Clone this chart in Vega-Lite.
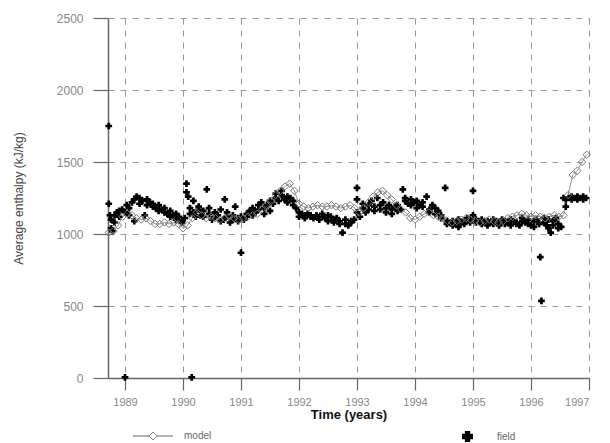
{
  "$schema": "https://vega.github.io/schema/vega-lite/v6.json",
  "width": 481,
  "height": 360,
  "autosize": {"type": "none"},
  "padding": {"left": 108, "top": 18, "right": 21, "bottom": 65},
  "background": "white",
  "config": {"view": {"stroke": null}, "font": "Liberation Sans"},
  "datasets": {
    "model": [
      {"year": 1988.72, "value": 1010}, {"year": 1988.8, "value": 1020}, {"year": 1988.88, "value": 1060},
      {"year": 1988.96, "value": 1120}, {"year": 1989.04, "value": 1140}, {"year": 1989.12, "value": 1130},
      {"year": 1989.2, "value": 1110}, {"year": 1989.28, "value": 1100}, {"year": 1989.36, "value": 1110},
      {"year": 1989.44, "value": 1090}, {"year": 1989.52, "value": 1070}, {"year": 1989.6, "value": 1070},
      {"year": 1989.68, "value": 1080}, {"year": 1989.76, "value": 1070}, {"year": 1989.84, "value": 1080},
      {"year": 1989.92, "value": 1070}, {"year": 1990.0, "value": 1040}, {"year": 1990.08, "value": 1060},
      {"year": 1990.16, "value": 1110}, {"year": 1990.24, "value": 1150}, {"year": 1990.32, "value": 1130},
      {"year": 1990.4, "value": 1110}, {"year": 1990.48, "value": 1120}, {"year": 1990.56, "value": 1110},
      {"year": 1990.64, "value": 1100}, {"year": 1990.72, "value": 1110}, {"year": 1990.8, "value": 1120},
      {"year": 1990.88, "value": 1110}, {"year": 1990.96, "value": 1100}, {"year": 1991.04, "value": 1110},
      {"year": 1991.12, "value": 1120}, {"year": 1991.2, "value": 1130}, {"year": 1991.28, "value": 1140},
      {"year": 1991.36, "value": 1170}, {"year": 1991.44, "value": 1200}, {"year": 1991.52, "value": 1230},
      {"year": 1991.6, "value": 1270}, {"year": 1991.68, "value": 1300}, {"year": 1991.76, "value": 1330},
      {"year": 1991.84, "value": 1350}, {"year": 1991.92, "value": 1300}, {"year": 1992.0, "value": 1210},
      {"year": 1992.08, "value": 1190}, {"year": 1992.16, "value": 1180}, {"year": 1992.24, "value": 1190},
      {"year": 1992.32, "value": 1200}, {"year": 1992.4, "value": 1190}, {"year": 1992.48, "value": 1190},
      {"year": 1992.56, "value": 1200}, {"year": 1992.64, "value": 1190}, {"year": 1992.72, "value": 1180},
      {"year": 1992.8, "value": 1190}, {"year": 1992.88, "value": 1200}, {"year": 1992.96, "value": 1180},
      {"year": 1993.04, "value": 1150}, {"year": 1993.12, "value": 1180}, {"year": 1993.2, "value": 1220},
      {"year": 1993.28, "value": 1260}, {"year": 1993.36, "value": 1290}, {"year": 1993.44, "value": 1300},
      {"year": 1993.52, "value": 1270}, {"year": 1993.6, "value": 1240}, {"year": 1993.68, "value": 1200},
      {"year": 1993.76, "value": 1170}, {"year": 1993.84, "value": 1150}, {"year": 1993.92, "value": 1110},
      {"year": 1994.0, "value": 1100}, {"year": 1994.08, "value": 1120}, {"year": 1994.16, "value": 1140},
      {"year": 1994.24, "value": 1150}, {"year": 1994.32, "value": 1130}, {"year": 1994.4, "value": 1120},
      {"year": 1994.48, "value": 1110}, {"year": 1994.56, "value": 1090}, {"year": 1994.64, "value": 1080},
      {"year": 1994.72, "value": 1090}, {"year": 1994.8, "value": 1100}, {"year": 1994.88, "value": 1110},
      {"year": 1994.96, "value": 1100}, {"year": 1995.04, "value": 1090}, {"year": 1995.12, "value": 1080},
      {"year": 1995.2, "value": 1090}, {"year": 1995.28, "value": 1100}, {"year": 1995.36, "value": 1090},
      {"year": 1995.44, "value": 1080}, {"year": 1995.52, "value": 1090}, {"year": 1995.6, "value": 1110},
      {"year": 1995.68, "value": 1120}, {"year": 1995.76, "value": 1130}, {"year": 1995.84, "value": 1140},
      {"year": 1995.92, "value": 1130}, {"year": 1996.0, "value": 1120}, {"year": 1996.08, "value": 1130},
      {"year": 1996.16, "value": 1120}, {"year": 1996.24, "value": 1110}, {"year": 1996.32, "value": 1120},
      {"year": 1996.4, "value": 1130}, {"year": 1996.48, "value": 1120}, {"year": 1996.56, "value": 1130},
      {"year": 1996.64, "value": 1270}, {"year": 1996.72, "value": 1410}, {"year": 1996.8, "value": 1440},
      {"year": 1996.88, "value": 1500}, {"year": 1996.96, "value": 1550}
    ],
    "field": [
      {"year": 1988.72, "value": 1750}, {"year": 1988.72, "value": 1210}, {"year": 1988.74, "value": 1130},
      {"year": 1988.76, "value": 1040}, {"year": 1988.76, "value": 1100}, {"year": 1988.78, "value": 1020},
      {"year": 1988.82, "value": 1080}, {"year": 1988.82, "value": 1130}, {"year": 1988.86, "value": 1150},
      {"year": 1988.9, "value": 1120}, {"year": 1988.9, "value": 1160}, {"year": 1988.95, "value": 1170},
      {"year": 1989.0, "value": 5}, {"year": 1989.0, "value": 1150}, {"year": 1989.03, "value": 1200},
      {"year": 1989.07, "value": 1180}, {"year": 1989.07, "value": 1130}, {"year": 1989.12, "value": 1220},
      {"year": 1989.16, "value": 1240}, {"year": 1989.16, "value": 1090}, {"year": 1989.2, "value": 1260},
      {"year": 1989.25, "value": 1250}, {"year": 1989.25, "value": 1210}, {"year": 1989.3, "value": 1230},
      {"year": 1989.34, "value": 1130}, {"year": 1989.38, "value": 1200}, {"year": 1989.38, "value": 1240},
      {"year": 1989.43, "value": 1220}, {"year": 1989.48, "value": 1190}, {"year": 1989.48, "value": 1210},
      {"year": 1989.53, "value": 1180}, {"year": 1989.58, "value": 1200}, {"year": 1989.58, "value": 1160},
      {"year": 1989.63, "value": 1170}, {"year": 1989.68, "value": 1150}, {"year": 1989.68, "value": 1180},
      {"year": 1989.73, "value": 1140}, {"year": 1989.78, "value": 1160}, {"year": 1989.78, "value": 1120},
      {"year": 1989.83, "value": 1130}, {"year": 1989.88, "value": 1100}, {"year": 1989.88, "value": 1140},
      {"year": 1989.93, "value": 1120}, {"year": 1989.98, "value": 1090}, {"year": 1989.98, "value": 1080},
      {"year": 1990.03, "value": 1110}, {"year": 1990.06, "value": 1350}, {"year": 1990.06, "value": 1290},
      {"year": 1990.09, "value": 1260}, {"year": 1990.12, "value": 1180}, {"year": 1990.12, "value": 1140},
      {"year": 1990.15, "value": 5}, {"year": 1990.18, "value": 1230}, {"year": 1990.18, "value": 1150},
      {"year": 1990.22, "value": 1120}, {"year": 1990.27, "value": 1170}, {"year": 1990.27, "value": 1190},
      {"year": 1990.3, "value": 1130}, {"year": 1990.35, "value": 1160}, {"year": 1990.35, "value": 1120},
      {"year": 1990.41, "value": 1310}, {"year": 1990.45, "value": 1180}, {"year": 1990.45, "value": 1140},
      {"year": 1990.5, "value": 1100}, {"year": 1990.55, "value": 1150}, {"year": 1990.55, "value": 1120},
      {"year": 1990.6, "value": 1130}, {"year": 1990.65, "value": 1090}, {"year": 1990.65, "value": 1170},
      {"year": 1990.7, "value": 1100}, {"year": 1990.72, "value": 1240}, {"year": 1990.76, "value": 1150},
      {"year": 1990.76, "value": 1120}, {"year": 1990.81, "value": 1080}, {"year": 1990.86, "value": 1130},
      {"year": 1990.86, "value": 1100}, {"year": 1990.9, "value": 1190}, {"year": 1990.95, "value": 1110},
      {"year": 1990.95, "value": 1090}, {"year": 1991.0, "value": 870}, {"year": 1991.0, "value": 1120},
      {"year": 1991.05, "value": 1100}, {"year": 1991.1, "value": 1140}, {"year": 1991.1, "value": 1120},
      {"year": 1991.15, "value": 1160}, {"year": 1991.2, "value": 1130}, {"year": 1991.2, "value": 1180},
      {"year": 1991.25, "value": 1150}, {"year": 1991.3, "value": 1200}, {"year": 1991.3, "value": 1170},
      {"year": 1991.35, "value": 1220}, {"year": 1991.4, "value": 1180}, {"year": 1991.4, "value": 1140},
      {"year": 1991.45, "value": 1200}, {"year": 1991.5, "value": 1160}, {"year": 1991.5, "value": 1230},
      {"year": 1991.55, "value": 1210}, {"year": 1991.6, "value": 1250}, {"year": 1991.6, "value": 1280},
      {"year": 1991.65, "value": 1230}, {"year": 1991.7, "value": 1300}, {"year": 1991.7, "value": 1270},
      {"year": 1991.75, "value": 1240}, {"year": 1991.8, "value": 1260}, {"year": 1991.8, "value": 1220},
      {"year": 1991.85, "value": 1250}, {"year": 1991.9, "value": 1200}, {"year": 1991.9, "value": 1230},
      {"year": 1991.95, "value": 1180}, {"year": 1992.0, "value": 1150}, {"year": 1992.0, "value": 1120},
      {"year": 1992.05, "value": 1140}, {"year": 1992.1, "value": 1130}, {"year": 1992.1, "value": 1110},
      {"year": 1992.15, "value": 1140}, {"year": 1992.2, "value": 1120}, {"year": 1992.2, "value": 1130},
      {"year": 1992.25, "value": 1110}, {"year": 1992.3, "value": 1130}, {"year": 1992.3, "value": 1120},
      {"year": 1992.35, "value": 1100}, {"year": 1992.4, "value": 1120}, {"year": 1992.4, "value": 1140},
      {"year": 1992.45, "value": 1110}, {"year": 1992.5, "value": 1130}, {"year": 1992.5, "value": 1090},
      {"year": 1992.55, "value": 1120}, {"year": 1992.6, "value": 1080}, {"year": 1992.6, "value": 1100},
      {"year": 1992.65, "value": 1110}, {"year": 1992.7, "value": 1090}, {"year": 1992.7, "value": 1070},
      {"year": 1992.75, "value": 1010}, {"year": 1992.8, "value": 1070}, {"year": 1992.8, "value": 1100},
      {"year": 1992.85, "value": 1060}, {"year": 1992.9, "value": 1090}, {"year": 1992.9, "value": 1080},
      {"year": 1992.95, "value": 1100}, {"year": 1993.0, "value": 1320}, {"year": 1993.0, "value": 1240},
      {"year": 1993.0, "value": 1150}, {"year": 1993.05, "value": 1120}, {"year": 1993.1, "value": 1180},
      {"year": 1993.1, "value": 1210}, {"year": 1993.15, "value": 1150}, {"year": 1993.2, "value": 1200},
      {"year": 1993.2, "value": 1170}, {"year": 1993.25, "value": 1230}, {"year": 1993.3, "value": 1160},
      {"year": 1993.3, "value": 1190}, {"year": 1993.35, "value": 1250}, {"year": 1993.4, "value": 1200},
      {"year": 1993.4, "value": 1170}, {"year": 1993.45, "value": 1220}, {"year": 1993.5, "value": 1180},
      {"year": 1993.5, "value": 1150}, {"year": 1993.55, "value": 1200}, {"year": 1993.6, "value": 1170},
      {"year": 1993.6, "value": 1140}, {"year": 1993.65, "value": 1190}, {"year": 1993.7, "value": 1160},
      {"year": 1993.7, "value": 1200}, {"year": 1993.75, "value": 1170}, {"year": 1993.79, "value": 1310},
      {"year": 1993.83, "value": 1230}, {"year": 1993.83, "value": 1250}, {"year": 1993.88, "value": 1210},
      {"year": 1993.93, "value": 1240}, {"year": 1993.93, "value": 1200}, {"year": 1993.98, "value": 1220},
      {"year": 1994.03, "value": 1180}, {"year": 1994.03, "value": 1230}, {"year": 1994.08, "value": 1200},
      {"year": 1994.13, "value": 1220}, {"year": 1994.13, "value": 1190}, {"year": 1994.2, "value": 1260},
      {"year": 1994.25, "value": 1170}, {"year": 1994.25, "value": 1150}, {"year": 1994.3, "value": 1200},
      {"year": 1994.35, "value": 1180}, {"year": 1994.35, "value": 1140}, {"year": 1994.4, "value": 1160},
      {"year": 1994.45, "value": 1130}, {"year": 1994.45, "value": 1110}, {"year": 1994.52, "value": 1320},
      {"year": 1994.55, "value": 1090}, {"year": 1994.55, "value": 1070}, {"year": 1994.6, "value": 1080},
      {"year": 1994.65, "value": 1060}, {"year": 1994.65, "value": 1090}, {"year": 1994.7, "value": 1070},
      {"year": 1994.75, "value": 1100}, {"year": 1994.75, "value": 1050}, {"year": 1994.8, "value": 1080},
      {"year": 1994.85, "value": 1090}, {"year": 1994.85, "value": 1070}, {"year": 1994.9, "value": 1110},
      {"year": 1994.95, "value": 1080}, {"year": 1994.95, "value": 1100}, {"year": 1995.0, "value": 1300},
      {"year": 1995.0, "value": 1130}, {"year": 1995.05, "value": 1100}, {"year": 1995.05, "value": 1080},
      {"year": 1995.1, "value": 1090}, {"year": 1995.15, "value": 1070}, {"year": 1995.15, "value": 1100},
      {"year": 1995.2, "value": 1080}, {"year": 1995.25, "value": 1090}, {"year": 1995.25, "value": 1060},
      {"year": 1995.3, "value": 1080}, {"year": 1995.35, "value": 1100}, {"year": 1995.35, "value": 1070},
      {"year": 1995.4, "value": 1090}, {"year": 1995.45, "value": 1080}, {"year": 1995.45, "value": 1060},
      {"year": 1995.5, "value": 1100}, {"year": 1995.55, "value": 1070}, {"year": 1995.55, "value": 1090},
      {"year": 1995.6, "value": 1080}, {"year": 1995.65, "value": 1060}, {"year": 1995.65, "value": 1100},
      {"year": 1995.7, "value": 1090}, {"year": 1995.75, "value": 1070}, {"year": 1995.75, "value": 1080},
      {"year": 1995.8, "value": 1060}, {"year": 1995.85, "value": 1090}, {"year": 1995.85, "value": 1110},
      {"year": 1995.9, "value": 1080}, {"year": 1995.95, "value": 1070}, {"year": 1995.95, "value": 1100},
      {"year": 1996.0, "value": 1060}, {"year": 1996.05, "value": 1090}, {"year": 1996.05, "value": 1050},
      {"year": 1996.1, "value": 1100}, {"year": 1996.14, "value": 1070}, {"year": 1996.16, "value": 840},
      {"year": 1996.18, "value": 535}, {"year": 1996.22, "value": 1110}, {"year": 1996.22, "value": 1080},
      {"year": 1996.27, "value": 1060}, {"year": 1996.3, "value": 1100}, {"year": 1996.3, "value": 1040},
      {"year": 1996.34, "value": 1010}, {"year": 1996.38, "value": 1090}, {"year": 1996.38, "value": 1060},
      {"year": 1996.43, "value": 1110}, {"year": 1996.47, "value": 1070}, {"year": 1996.47, "value": 1040},
      {"year": 1996.52, "value": 1050}, {"year": 1996.56, "value": 1250}, {"year": 1996.6, "value": 1190},
      {"year": 1996.6, "value": 1240}, {"year": 1996.65, "value": 1250}, {"year": 1996.7, "value": 1240},
      {"year": 1996.7, "value": 1260}, {"year": 1996.75, "value": 1250}, {"year": 1996.8, "value": 1260},
      {"year": 1996.8, "value": 1240}, {"year": 1996.85, "value": 1250}, {"year": 1996.9, "value": 1260},
      {"year": 1996.9, "value": 1240}, {"year": 1996.95, "value": 1250}
    ]
  },
  "encoding": {
    "x": {
      "field": "year", "type": "quantitative",
      "scale": {"domain": [1988.707, 1997], "nice": false, "zero": false},
      "axis": {
        "values": [1989, 1990, 1991, 1992, 1993, 1994, 1995, 1996, 1997],
        "format": "d", "title": "Time (years)",
        "titleFontWeight": "bold", "titleFontSize": 13, "titleColor": "#111", "titlePadding": 1,
        "labelFontSize": 11, "labelColor": "#888", "labelPadding": 6,
        "domainColor": "#666", "domainWidth": 1.5, "tickColor": "#666", "tickSize": 12, "tickWidth": 1.2,
        "grid": true, "gridDash": [6, 6], "gridColor": "#999", "gridWidth": 1
      }
    },
    "y": {
      "field": "value", "type": "quantitative",
      "scale": {"domain": [0, 2500], "nice": false},
      "axis": {
        "values": [0, 500, 1000, 1500, 2000, 2500],
        "format": "d",
        "title": "Average enthalpy (kJ/kg)",
        "titleFontWeight": "normal", "titleFontSize": 12, "titleColor": "#444", "titlePadding": 31,
        "labelFontSize": 12, "labelColor": "#888", "labelPadding": 10,
        "domainColor": "#666", "domainWidth": 1.5, "tickColor": "#666", "tickSize": 15, "tickWidth": 1.2,
        "grid": true, "gridDash": [6, 6], "gridColor": "#999", "gridWidth": 1
      }
    }
  },
  "layer": [
    {
      "data": {"name": "model"},
      "mark": {"type": "line", "color": "#888", "strokeWidth": 1},
      "encoding": {
        "strokeDash": {
          "datum": "model",
          "scale": {"domain": ["model"], "range": [[1, 0]]},
          "legend": {
            "title": null, "orient": "none", "legendX": 40, "legendY": 413, "padding": 0,
            "symbolType": "M-5,0H-1M1,0H5M0,-1L1,0L0,1L-1,0Z",
            "symbolSize": 64, "symbolStrokeColor": "#666", "symbolFillColor": "white", "symbolStrokeWidth": 1,
            "symbolDash": [1, 0],
            "labelFontSize": 10, "labelColor": "#666", "labelOffset": 26
          }
        }
      }
    },
    {
      "data": {"name": "field"},
      "mark": {"type": "point", "shape": "cross", "filled": true, "size": 45, "opacity": 1},
      "encoding": {
        "color": {
          "datum": "field",
          "scale": {"domain": ["field"], "range": ["black"]},
          "legend": {
            "title": null, "orient": "none", "legendX": 354, "legendY": 413, "padding": 0,
            "symbolType": "cross", "symbolSize": 90, "symbolFillColor": "black", "symbolStrokeColor": "black",
            "labelFontSize": 10, "labelColor": "#666", "labelOffset": 24
          }
        }
      }
    },
    {
      "data": {"name": "model"},
      "mark": {"type": "point", "shape": "diamond", "filled": false, "size": 55, "color": "#777", "strokeWidth": 1, "opacity": 1}
    }
  ]
}
